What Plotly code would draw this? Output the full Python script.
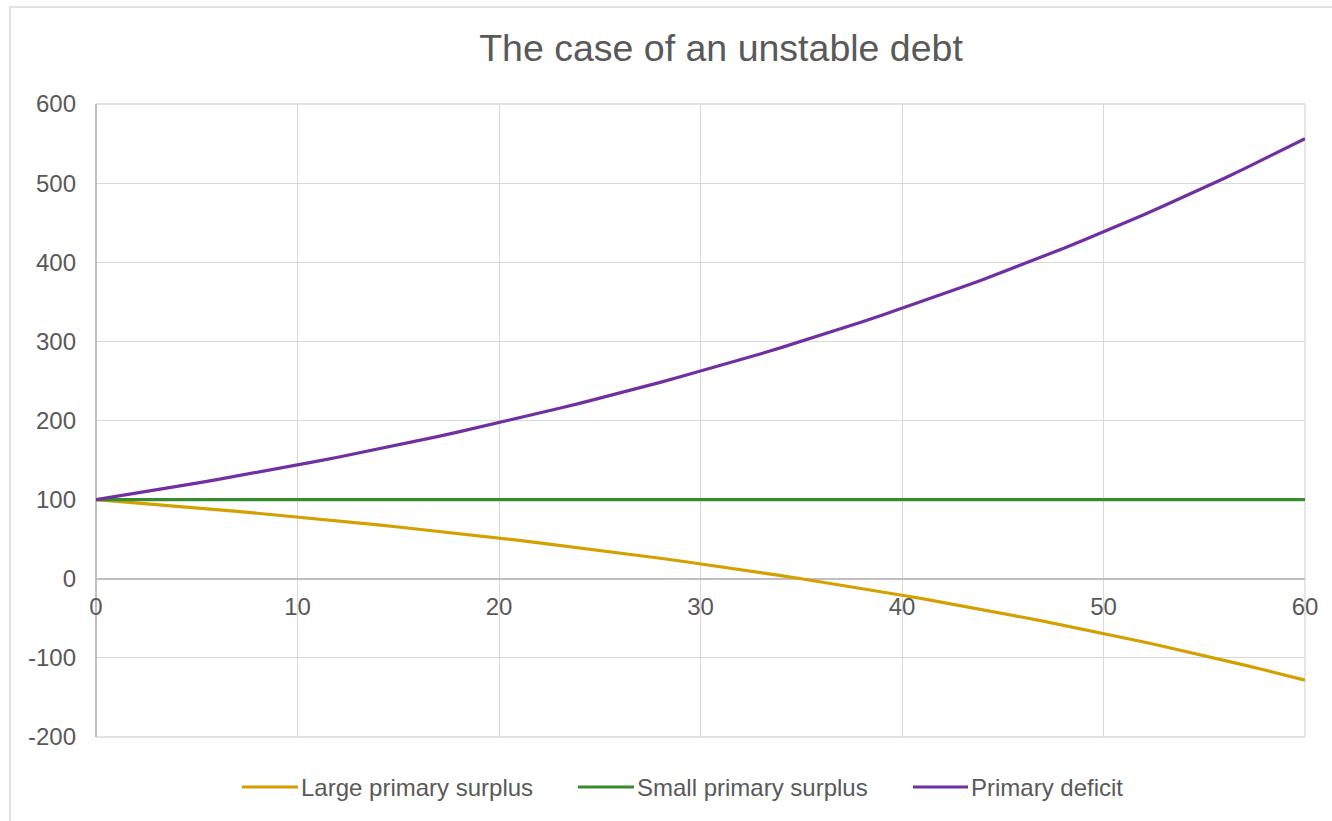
import plotly.graph_objects as go

# Debt paths over 60 years, starting from a debt level of 100
years = list(range(0, 61))

large_surplus = [
    100.0, 98.0, 96.0, 93.9, 91.8, 89.6, 87.4, 85.1, 82.8, 80.5,
    78.1, 75.7, 73.2, 70.6, 68.1, 65.4, 62.7, 60.0, 57.2, 54.3,
    51.4, 48.4, 45.4, 42.3, 39.2, 35.9, 32.7, 29.3, 25.9, 22.4,
    18.9, 15.2, 11.5, 7.8, 3.9, 0.0, -4.0, -8.1, -12.2, -16.5,
    -20.8, -25.2, -29.7, -34.3, -39.0, -43.8, -48.7, -53.6, -58.7, -63.9,
    -69.2, -74.5, -80.0, -85.6, -91.3, -97.2, -103.1, -109.2, -115.4, -121.7,
    -128.1,
]

small_surplus = [100.0] * 61

primary_deficit = [
    100.0, 104.0, 108.1, 112.2, 116.5, 120.8, 125.2, 129.7, 134.3, 139.0,
    143.8, 148.7, 153.6, 158.7, 163.9, 169.2, 174.6, 180.0, 185.6, 191.4,
    197.2, 203.1, 209.2, 215.4, 221.7, 228.1, 234.7, 241.4, 248.2, 255.2,
    262.3, 269.5, 276.9, 284.4, 292.1, 300.0, 308.0, 316.1, 324.5, 332.9,
    341.6, 350.4, 359.4, 368.6, 378.0, 387.6, 397.3, 407.3, 417.4, 427.8,
    438.3, 449.1, 460.1, 471.3, 482.7, 494.3, 506.2, 518.4, 530.7, 543.3,
    556.2,
]

series_names = ["Large primary surplus", "Small primary surplus", "Primary deficit"]
series_colors = ["#D4A000", "#3A8A2F", "#7030A0"]
series_values = [large_surplus, small_surplus, primary_deficit]

x_ticks = [0, 10, 20, 30, 40, 50, 60]
y_ticks = [-200, -100, 0, 100, 200, 300, 400, 500, 600]
y_tick_labels = ["-200", "-100", "0", "100", "200", "300", "400", "500", "600"]

W, H = 1332, 821
ML, MR, MT, MB = 96, 27, 104, 84
PW, PH = W - ML - MR, H - MT - MB

def px_x(p):
    return (p - ML) / PW

def px_y(p):
    return (H - MB - p) / PH

TEXT = "#595959"
GRID = "#D9D9D9"
FONT = "Liberation Sans, Arial, sans-serif"

fig = go.Figure()
for name, color, vals in zip(series_names, series_colors, series_values):
    fig.add_trace(go.Scatter(
        x=years, y=vals, mode="lines", name=name,
        line=dict(color=color, width=3.2), showlegend=False,
    ))

fig.update_layout(
    width=W, height=H,
    margin=dict(l=ML, r=MR, t=MT, b=MB),
    paper_bgcolor="white", plot_bgcolor="white",
    font=dict(family=FONT, color=TEXT, size=24),
    title=dict(text="The case of an unstable debt", x=px_x(721), xref="paper",
               xanchor="center", y=1 - 48 / H, yanchor="middle",
               font=dict(size=37.5, color=TEXT, family=FONT)),
    xaxis=dict(
        range=[0, 60], tickvals=x_ticks,
        showgrid=True, gridcolor=GRID, gridwidth=1.3,
        zeroline=True, zerolinecolor="#BFBFBF", zerolinewidth=1.5,
        showline=False, ticks="", anchor="free", position=0.25,
        tickfont=dict(size=24, color=TEXT), ticklabelstandoff=11,
    ),
    yaxis=dict(
        range=[-200, 600], tickvals=y_ticks, ticktext=y_tick_labels,
        showgrid=True, gridcolor=GRID, gridwidth=1.3,
        zeroline=True, zerolinecolor="#BFBFBF", zerolinewidth=1.5,
        showline=False, ticks="", tickfont=dict(size=24, color=TEXT),
        ticklabelstandoff=19,
    ),
    showlegend=False,
)

# Plot area edges (top, bottom, right)
for x0, x1, y0, y1 in [(0, 1, 1, 1), (0, 1, 0, 0), (1, 1, 0, 1)]:
    fig.add_shape(type="line", xref="paper", yref="paper", x0=x0, x1=x1, y0=y0, y1=y1,
                  line=dict(color=GRID, width=1.3), layer="below")

# Chart frame
fig.add_shape(type="rect", xref="paper", yref="paper",
              x0=px_x(10), x1=px_x(1345), y0=px_y(835), y1=px_y(7),
              line=dict(color=GRID, width=1.5), fillcolor="rgba(0,0,0,0)")

# Legend row beneath the plot
legend_y = px_y(787)
legend_lines = [(242, 298), (578, 634), (913, 968)]
for (x0, x1), name, color in zip(legend_lines, series_names, series_colors):
    fig.add_shape(type="line", xref="paper", yref="paper",
                  x0=px_x(x0), x1=px_x(x1), y0=legend_y, y1=legend_y,
                  line=dict(color=color, width=3))
    fig.add_annotation(xref="paper", yref="paper", x=px_x(x1 + 1), y=legend_y,
                       text=name, showarrow=False, xanchor="left", yanchor="middle",
                       font=dict(size=24, color=TEXT, family=FONT))

fig.write_html("out.html")
